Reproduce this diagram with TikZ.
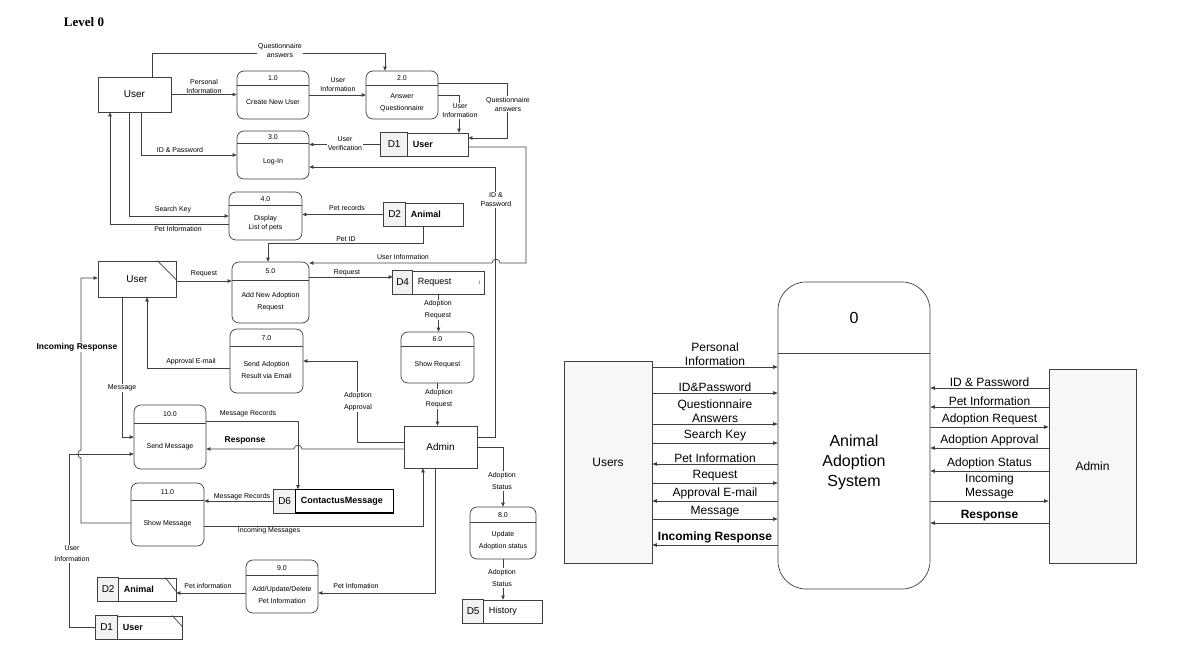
\documentclass[tikz,border=0pt]{standalone}
\usepackage{fontspec}
\setmainfont{Liberation Sans}
\newfontfamily\levelfont{Liberation Serif}
\usetikzlibrary{arrows.meta}

% process box: name, centre, width, height, divider offset, number, text
\newcommand{\procbox}[7]{%
  \node[proc, minimum width=#3, minimum height=#4] (#1) at (#2) {};
  \draw[line] ([yshift=-#5]#1.north west) -- ([yshift=-#5]#1.north east);
  \node[ptxt] (#1n) at ([yshift=-#5/2]#1.north) {#6};
  \node[ptxt] (#1t) at ([yshift=-#5/2]#1.center) {#7};
}
% data store: name, centre, width, id cell width, id, label
\newcommand{\datastore}[6]{%
  \node[storebox, minimum width=#3] (#1) at (#2) {};
  \filldraw[line, fill=gray!10] (#1.north west) rectangle ([xshift=#4]#1.south west);
  \node[font=\fontsize{10}{12}\selectfont, inner sep=0pt] (#1i) at ([xshift=#4/2]#1.west) {#5};
  \node[font=\fontsize{9}{11}\selectfont, anchor=west, inner sep=0pt] (#1l) at ([xshift=#4+5]#1.west) {#6};
}

\begin{document}
\begin{tikzpicture}[x=1pt, y=-1pt,
    line/.style={draw=black!75, line width=0.7pt},
    flow/.style={line, -{Triangle[length=4pt, width=3.5pt]}},
    fwd/.style={-{Triangle[length=4.5pt, width=3.5pt]}},
    bwd/.style={{Triangle[length=4.5pt, width=3.5pt]}-},
    proc/.style={line, rounded corners=7pt, fill=white, inner sep=0pt},
    entity/.style={line, fill=white, inner sep=0pt, font=\fontsize{10}{12}\selectfont},
    storebox/.style={line, fill=white, minimum height=23pt, inner sep=0pt},
    lbl/.style={font=\fontsize{7}{9}\selectfont, align=center, inner sep=1pt},
    onl/.style={lbl, fill=white},
    ptxt/.style={font=\fontsize{7}{12}\selectfont, align=center, inner sep=0pt},
    big/.style={font=\fontsize{12}{14}\selectfont, align=center, inner sep=1.5pt}]
  \useasboundingbox (0,0) rectangle (1184,656);

  \node[font=\levelfont\bfseries\fontsize{13}{15}\selectfont] (title) at (84,22) {Level 0};

  % ---- level 0 (left) ----
  \node[entity, minimum width=73, minimum height=35] (user1) at (134.5,94.5) {User};
  \node[entity, minimum width=78, minimum height=36] (user2) at (137,279) {User};
  \draw[line] ([xshift=-19]user2.north east) -- ([yshift=-19]user2.north east);
  \node[entity, minimum width=73, minimum height=42] (admin) at (440.5,447) {Admin};

  \procbox{p1}{273,95}{72}{48}{15}{1.0}{Create New User}
  \procbox{p2}{402,95}{72}{48}{15}{2.0}{Answer\\Questionnaire}
  \procbox{p3}{273,155}{72}{48}{13}{3.0}{Log-In}
  \procbox{p4}{265.5,216}{73}{48}{14}{4.0}{Display\\[-3pt]List of pets}
  \procbox{p5}{270.5,292.5}{77}{61}{19}{5.0}{Add New Adoption\\Request}
  \procbox{p6}{437.5,357.5}{73}{51}{15}{6.0}{Show Request}
  \procbox{p7}{266.5,361}{73}{64}{18}{7.0}{Send Adoption\\Result via Email}
  \procbox{p8}{503,533}{66}{52}{16}{8.0}{Update\\Adoption status}
  \procbox{p9}{282,586.5}{72}{53}{16}{9.0}{Add/Update/Delete\\Pet Information}
  \procbox{p10}{170,437}{72}{64}{19}{10.0}{Send Message}
  \procbox{p11}{167.5,514.5}{73}{63}{18}{11.0}{Show Message}

  \datastore{d1a}{424.5,144.5}{87}{27}{D1}{\textbf{User}}
  \datastore{d2a}{423.5,214.5}{79}{22}{D2}{\textbf{Animal}}
  \datastore{d4}{438.5,282.5}{91}{20}{D4}{Request}
  \node[font=\fontsize{5}{6}\selectfont] (d4x) at (480,283) {i};
  \datastore{d6}{333.5,501}{119}{22}{D6}{\textbf{ContactusMessage}}
  \draw[line width=1.3pt] ([xshift=22]d6.north west) rectangle (d6.south east);
  \datastore{d5}{502.5,611.5}{79}{21}{D5}{History}
  \datastore{d2b}{137,589.5}{78}{21}{D2}{\textbf{Animal}}
  \draw[line] ([xshift=-11]d2b.north east) -- ([yshift=-14]d2b.north east);
  \datastore{d1b}{139,627.5}{86}{22}{D1}{\textbf{User}}
  \draw[line] ([xshift=-10]d1b.north east) -- ([yshift=-11]d1b.north east);

  \draw[flow] ([xshift=17.5]user1.north) -- (152,53) -| ([xshift=-17]p2.north);
  \draw[flow] (user1.east) -- (user1.east -| p1.west);
  \draw[flow] (p1.east) -- (p2.west);
  \draw[flow] ([xshift=6.5]user1.south) |- (p3.west);
  \draw[flow] ([xshift=-5.5]user1.south) |- (p4.west);
  \draw[flow] ([yshift=-8]p4.west) -| ([xshift=-24.5]user1.south);
  \draw[flow] ([yshift=12]p2.east) -- (507,83) |- ([yshift=6.5]d1a.east);
  \draw[flow] (p2.east) -| ([xshift=34.5]d1a.north);
  \draw[flow] (d1a.west) -- (d1a.west -| p3.east);
  \draw[flow] ([yshift=10]admin.east) -- (495,437) |- ([yshift=-12]p3.east);
  \draw[flow] ([yshift=-2.5]d1a.east) -- (526,147) -- (526,263) -- (500,263)
      .. controls (500,258) and (492,258) .. (492,263) -- ([yshift=29.5]p5.east);
  \draw[flow] (d2a.west) -- (d2a.west -| p4.east);
  \draw[flow] (d2a.south) -- (423.5,243) -| ([xshift=-2.5]p5.north);
  \draw[flow] ([yshift=-2]user2.east) -- ([yshift=-2]user2.east -| p5.west);
  \draw[flow] ([yshift=15.5]p5.east) -- ([yshift=15.5]p5.east -| d4.west);
  \draw[flow] (d4.south) -- (d4.south |- p6.north);
  \draw[flow] (p6.south) -- (p6.south |- admin.north);
  \draw[flow] ([yshift=-7]p7.west) -| ([xshift=10]user2.south);
  \draw[flow] ([yshift=5]admin.west) -- (357,442) |- (p7.east);
  \draw[flow] ([yshift=-8.5]p11.west) -- (81,523) -- (81,458)
      .. controls (77,458) and (77,450) .. (81,450) -- (81,278) -- ([yshift=1]user2.west);
  \draw[flow] ([xshift=-15]user2.south) |- (p10.west);
  \draw[flow] (d1b.west) -- (69,627.5) |- ([yshift=-17]p10.west);
  \draw[flow] ([yshift=16]p10.east) -| ([xshift=-35.5]d6.north);
  \draw[flow] ([yshift=-2]admin.west) -- (302,449)
      .. controls (302,444) and (294,444) .. (294,449) -- ([yshift=-12]p10.east);
  \draw[flow] (d6.west) -- (d6.west -| p11.east);
  \draw[flow] ([yshift=-11.5]p11.east) -| ([xshift=-17.5]admin.south);
  \draw[flow] (admin.east) -| (p8.north);
  \draw[flow] (p8.south) -- (p8.south |- d5.north);
  \draw[flow] ([xshift=-5.5]admin.south) |- ([yshift=-6.5]p9.east);
  \draw[flow] ([yshift=-6.5]p9.west) -- ([yshift=-6.5]p9.west -| d2b.east);

  \node[onl] (lqa1) at (280,50) {Questionnaire\\answers};
  \node[lbl] (lpi) at (204,86) {Personal\\Information};
  \node[lbl] (lui1) at (338,85) {User\\Information};
  \node[lbl] (lidp1) at (180,150) {ID \& Password};
  \node[lbl] (lsk) at (173,210) {Search Key};
  \node[lbl] (lpinf) at (178,229) {Pet Information};
  \node[onl] (lqa2) at (508,104) {Questionnaire\\answers};
  \node[onl] (lui2) at (460,111) {User\\Information};
  \node[onl] (luv) at (345,144) {User\\Verification};
  \node[onl] (lidp2) at (496,200) {ID \&\\Password};
  \node[lbl] (lui3) at (403,257) {User Information};
  \node[lbl] (lpr) at (347,208) {Pet records};
  \node[lbl] (lpid) at (346,239) {Pet ID};
  \node[lbl] (lreq1) at (204,274) {Request};
  \node[lbl] (lreq2) at (347,273) {Request};
  \node[onl] (lar1) at (438,310) {Adoption\\[3pt]Request};
  \node[onl] (lar2) at (439,399) {Adoption\\[3pt]Request};
  \node[lbl] (lae) at (191,362) {Approval E-mail};
  \node[onl] (laa) at (358,402) {Adoption\\[3pt]Approval};
  \node[onl, font=\bfseries\fontsize{8.5}{10}\selectfont] (lir) at (77,347) {Incoming Response};
  \node[onl] (lmsg) at (122,388) {Message};
  \node[onl] (luil) at (72,554) {User\\[2pt]Information};
  \node[lbl] (lmr1) at (248,414) {Message Records};
  \node[lbl, font=\bfseries\fontsize{8.5}{10}\selectfont] (lresp) at (245,440) {Response};
  \node[lbl] (lmr2) at (242,497) {Message Records};
  \node[lbl] (lim) at (269,531) {Incoming Messages};
  \node[onl] (las1) at (502,481) {Adoption\\[3pt]Status};
  \node[onl] (las2) at (502,578) {Adoption\\[3pt]Status};
  \node[lbl] (lpinf2) at (356,586) {Pet Infomation};
  \node[lbl] (lpinf3) at (208,586) {Pet information};

  % ---- context diagram (right) ----
  \node[line, fill=gray!6, minimum width=88, minimum height=202, font=\fontsize{12}{14}\selectfont] (users) at (608,462) {Users};
  \node[line, fill=gray!6, minimum width=87, minimum height=194, font=\fontsize{12}{14}\selectfont] (radmin) at (1092.5,466) {Admin};
  \node[line, rounded corners=28pt, fill=white, minimum width=152, minimum height=307] (sys) at (854,435.5) {};
  \draw[line] ([yshift=-72]sys.north west) -- ([yshift=-72]sys.north east);
  \node[font=\fontsize{16}{20}\selectfont] (sysno) at ([yshift=-36]sys.north) {0};
  \node[font=\fontsize{16}{20}\selectfont, align=center] (sysname) at ([yshift=-26.5]sys.center) {Animal\\Adoption\\System};

  \foreach \s/\tip/\txt [count=\i] in {95/fwd/{Personal\\Information}, 69/fwd/{ID\&Password},
      38/fwd/{Questionnaire\\Answers}, 19/fwd/{Search Key}, -2/bwd/{Pet Information},
      -21/fwd/{Request}, -39/bwd/{Approval E-mail}, -57/fwd/{Message},
      -83/bwd/{\textbf{Incoming Response}}}
    \draw[line, \tip] ([yshift=\s]users.east) -- ([yshift=\s]users.east -| sys.west)
      node[big, midway, above] (lu\i) {\txt};

  \foreach \s/\tip/\txt [count=\i] in {78/fwd/{ID \& Password}, 59/fwd/{Pet Information},
      39/bwd/{Adoption Request}, 18/fwd/{Adoption Approval}, -5/fwd/{Adoption Status},
      -35/bwd/{Incoming\\Message}, -57/fwd/{\textbf{Response}}}
    \draw[line, \tip] ([yshift=\s]radmin.west) -- ([yshift=\s]radmin.west -| sys.east)
      node[big, midway, above] (la\i) {\txt};
\end{tikzpicture}
\end{document}
